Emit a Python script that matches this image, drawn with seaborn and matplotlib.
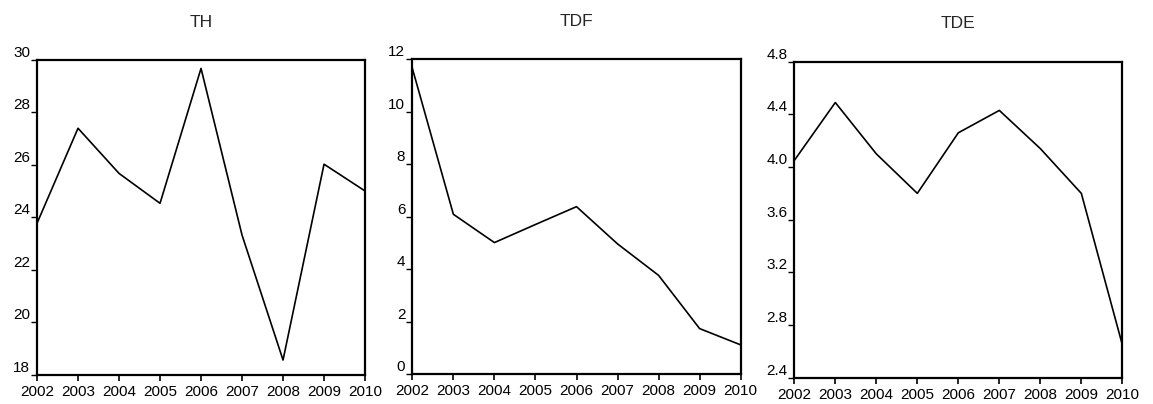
import matplotlib
matplotlib.use("Agg")
import matplotlib.pyplot as plt
import seaborn as sns
import pandas as pd
import numpy as np

years = [2002, 2003, 2004, 2005, 2006, 2007, 2008, 2009, 2010]
th = [23.78, 27.40, 25.68, 24.54, 29.68, 23.33, 18.57, 26.03, 25.01]
tdf = [11.66, 6.09, 5.01, 5.70, 6.38, 4.96, 3.76, 1.73, 1.11]
tde = [4.05, 4.49, 4.10, 3.80, 4.26, 4.43, 4.14, 3.80, 2.65]
titles = ["TH", "TDF", "TDE"]
yticks = [
    [18, 20, 22, 24, 26, 28, 30],
    [0, 2, 4, 6, 8, 10, 12],
    [2.4, 2.8, 3.2, 3.6, 4.0, 4.4, 4.8],
]
ytick_labels = [
    ["18", "20", "22", "24", "26", "28", "30"],
    ["0", "2", "4", "6", "8", "10", "12"],
    ["2.4", "2.8", "3.2", "3.6", "4.0", "4.4", "4.8"],
]
series = [th, tdf, tde]

sns.set_theme(style="white")
plt.rcParams["font.family"] = ["Liberation Sans", "DejaVu Sans"]

fig = plt.figure(figsize=(11.53, 4.04), dpi=100)
positions = [
    [0.0321, 0.0718, 0.2845, 0.7797],
    [0.3576, 0.0743, 0.2848, 0.7790],
    [0.6889, 0.0651, 0.2845, 0.7822],
]

for i in range(3):
    ax = fig.add_axes(positions[i])
    df = pd.DataFrame({"year": years, "value": series[i]})
    sns.lineplot(data=df, x="year", y="value", ax=ax, color="black", linewidth=1.2)
    ax.set_xlim(years[0], years[-1])
    ax.set_ylim(yticks[i][0], yticks[i][-1])
    ax.set_xticks(years)
    ax.set_xticklabels([str(y) for y in years], fontsize=11)
    ax.set_yticks(yticks[i])
    ax.set_yticklabels(ytick_labels[i], fontsize=11)
    ax.set_xlabel("")
    ax.set_ylabel("")
    for s in ax.spines.values():
        s.set_visible(True)
        s.set_color("black")
        s.set_linewidth(1.6)
    ax.tick_params(axis="x", direction="out", length=4.5, width=1.2, color="black",
                   pad=3, bottom=True, labelcolor="black")
    ax.tick_params(axis="y", direction="out", length=4, width=1.0, color="black",
                   pad=1, left=True, labelcolor="black")
    for lab in ax.get_yticklabels():
        lab.set_verticalalignment("bottom")
    ax.set_title(titles[i], fontsize=12.5, pad=24,
                 family=["Liberation Sans Narrow", "Liberation Sans", "DejaVu Sans"])
    ax.grid(False)

fig.savefig("out.png", dpi=100)
